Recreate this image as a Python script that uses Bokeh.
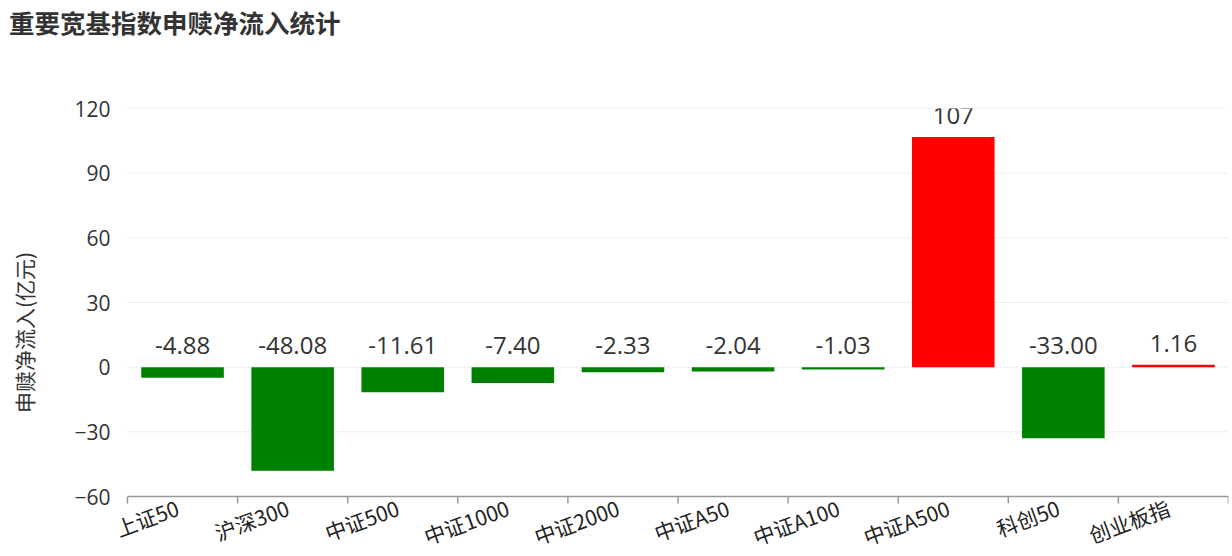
import math
from bokeh.plotting import figure
from bokeh.layouts import column
from bokeh.models import FixedTicker, Range1d, ColumnDataSource, Div
from bokeh.core.properties import value
from bokeh.embed import file_html
from bokeh.resources import INLINE

title_text = "重要宽基指数申赎净流入统计"
y_title = "申赎净流入(亿元)"
categories = ["上证50", "沪深300", "中证500", "中证1000", "中证2000",
              "中证A50", "中证A100", "中证A500", "科创50", "创业板指"]
net_inflow = [-4.88, -48.08, -11.61, -7.40, -2.33, -2.04, -1.03, 106.8, -33.00, 1.16]
y_ticks = [-60, -30, 0, 30, 60, 90, 120]

n = len(categories)
xc = [i + 0.5 for i in range(n)]
bounds = list(range(n + 1))
colors = ["#ff0000" if v > 0 else "#008000" for v in net_inflow]
labels = [f"{v:.0f}" if abs(v) >= 100 else f"{v:.2f}" for v in net_inflow]
label_y = [max(v, 0) for v in net_inflow]

src = ColumnDataSource(dict(x=xc, top=net_inflow, color=colors, lab=labels, ly=label_y))
cat_src = ColumnDataSource(dict(x=xc, y=[y_ticks[0]] * n, name=categories))
tick_src = ColumnDataSource(dict(x=bounds, y=[y_ticks[0]] * (n + 1)))
grid_src = ColumnDataSource(dict(x0=[0] * (len(y_ticks) - 1), x1=[n] * (len(y_ticks) - 1),
                                 y=y_ticks[1:]))

CJK = "Noto Sans CJK SC"
NUM = "Open Sans"

# layout: plot area 1101 x 388 px; the frame is padded left and below so the
# rotated category labels are not clipped
W, H_TITLE, H_FIG = 1232, 48, 508
FRAME_TOP, AXIS_PX, LABEL_PX = 60, 388, 60
PLOT_W_PX, LEFT_PAD_PX = 1101, 19
span = y_ticks[-1] - y_ticks[0]
y_start = y_ticks[0] - span * LABEL_PX / AXIS_PX
x_start = -n * LEFT_PAD_PX / PLOT_W_PX

title = Div(text=title_text, width=W, height=H_TITLE, margin=0,
            styles={"font-family": f"'{CJK}'", "font-size": "25.5px",
                    "font-weight": "bold", "color": "#333333",
                    "padding-left": "9px", "padding-top": "4px",
                    "line-height": "1.4", "box-sizing": "border-box"})

p = figure(width=W, height=H_FIG, output_backend="svg", toolbar_location=None,
           x_range=Range1d(x_start, n), y_range=Range1d(y_start, y_ticks[-1]),
           x_axis_location=None, margin=0,
           min_border_left=127 - LEFT_PAD_PX, min_border_right=4,
           min_border_top=FRAME_TOP, min_border_bottom=0)

p.outline_line_color = None
p.background_fill_color = "white"
p.xgrid.grid_line_color = None
p.ygrid.grid_line_color = None

# dotted horizontal grid lines over the plot area
p.segment(x0="x0", x1="x1", y0="y", y1="y", source=grid_src,
          line_color="#d8dce6", line_dash="2 2", line_width=1)

p.vbar(x="x", top="top", bottom=0, width=0.75, fill_color="color",
       line_color=None, source=src)
p.text(x="x", y="ly", text="lab", source=src, text_align="center",
       text_baseline="bottom", y_offset=-13, text_font_size="24px",
       text_color="#333333", text_font=value(NUM))

# y axis
p.yaxis.ticker = FixedTicker(ticks=y_ticks)
p.yaxis.axis_line_color = None
p.yaxis.major_tick_line_color = None
p.yaxis.minor_tick_line_color = None
p.yaxis.major_label_text_font = NUM
p.yaxis.major_label_text_font_size = "21px"
p.yaxis.major_label_text_color = "#333333"
p.yaxis.major_label_standoff = 11 - LEFT_PAD_PX
p.yaxis.axis_label = y_title
p.yaxis.axis_label_text_font = CJK
p.yaxis.axis_label_text_font_size = "21px"
p.yaxis.axis_label_text_font_style = "normal"
p.yaxis.axis_label_text_color = "#333333"
p.yaxis.axis_label_standoff = 32

# category axis line, boundary ticks and rotated labels
p.segment(x0=[0], x1=[n], y0=[y_ticks[0]], y1=[y_ticks[0]],
          line_color="#999999", line_width=1.5)
p.ray(x="x", y="y", source=tick_src, length=7, length_units="screen",
      angle=-math.pi / 2, line_color="#999999", line_width=1.5)
p.text(x="x", y="y", text="name", source=cat_src, angle=math.radians(20),
       text_align="right", text_baseline="top", y_offset=-4, x_offset=-10,
       text_font=value(CJK), text_font_size="21px", text_color="#222222")

open("out.html", "w").write(file_html(column(title, p, spacing=0), INLINE))
